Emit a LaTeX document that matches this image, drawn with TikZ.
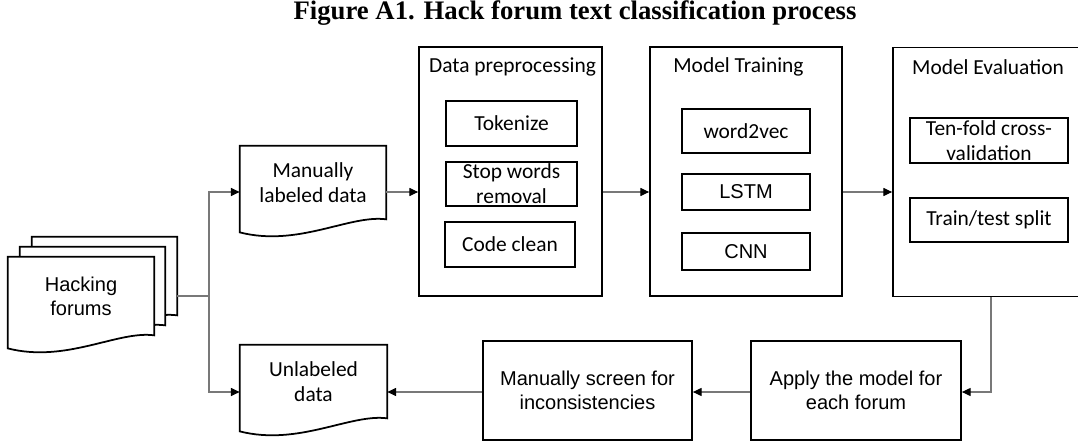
\documentclass[tikz,border=0pt]{standalone}
\usepackage{fontspec}
\usepackage{xcolor}
\usepackage{tikz}
\usetikzlibrary{arrows.meta,calc,backgrounds}
\newfontfamily\calibrifont{Carlito}
\newfontfamily\arialfont{Liberation Sans}
\newfontfamily\titlefont{Liberation Serif}
\definecolor{flowgray}{RGB}{120,120,120}

% document shape with a wavy bottom, drawn round a named node
\newcommand{\docoutline}[1]{%
  \filldraw[docline] (#1.south east) -- (#1.north east) -- (#1.north west)
    -- ($(#1.south west)+(0,13)$)
    .. controls ($(#1.south west)!0.4!(#1.south east)+(0,28)$) and ($(#1.south west)!0.75!(#1.south east)+(0,-5)$) .. (#1.south east) -- cycle;}

\begin{document}
\begin{tikzpicture}[x=0.02cm, y=-0.02cm,
    wh/.style 2 args={minimum width=#1*0.02cm, minimum height=#2*0.02cm},
    box/.style={draw, rectangle, line width=1pt, inner sep=0pt, align=center},
    docline/.style={draw=black, fill=white, line width=1pt},
    cal/.style={font=\calibrifont\fontsize{12.2}{14.2}\selectfont},
    ari/.style={font=\arialfont\fontsize{11.4}{13.6}\selectfont},
    flow/.style={draw=flowgray, line width=0.6pt},
    arr/.style={flow, -{Triangle[color=black, length=5pt, width=4.6pt]}}]
    \useasboundingbox (0,0) rectangle (1078,442);
    \clip (0,0) rectangle (1078,442);

    \node[font=\titlefont\bfseries\fontsize{15.2}{18}\selectfont] (title) at (575,13) {Figure A1. Hack forum text classification process};

    % input documents
    \node[wh={145}{78}] (forumsback) at (104.5,276) {};
    \node[wh={145}{78}] (forumsmid) at (92.5,286) {};
    \node[ari, wh={146}{78}, align=center] (forums) at (81,296) {Hacking\\forums};
    \node[cal, wh={146}{73}, align=center] (labeled) at (313,182.5) {Manually\\labeled data};
    \node[cal, wh={147}{73}, align=center] (unlabeled) at (313.5,381.5) {Unlabeled\\data};
    \begin{scope}[on background layer]
        \docoutline{forumsback}
        \docoutline{forumsmid}
        \docoutline{forums}
        \docoutline{labeled}
        \docoutline{unlabeled}
    \end{scope}

    % data preprocessing
    \node[box, wh={183}{249}] (dp) at (510.5,171.5) {};
    \node[cal] (dptitle) at (512.5,67) {Data preprocessing};
    \node[box, cal, wh={131}{45}] (tokenize) at (511.5,123.5) {Tokenize};
    \node[box, cal, wh={131}{44}] (stopwords) at (511.5,184) {Stop words\\removal};
    \node[box, cal, wh={130}{45}] (codeclean) at (510,244.5) {Code clean};

    % model training
    \node[box, wh={192}{249}] (mt) at (746,171.5) {};
    \node[cal] (mttitle) at (738.5,67) {Model Training};
    \node[box, cal, wh={128}{44}] (wordvec) at (746,131) {word2vec};
    \node[box, ari, wh={128}{36}] (lstm) at (746,192) {LSTM};
    \node[box, ari, wh={128}{37}] (cnn) at (746,251.5) {CNN};

    % model evaluation
    \node[box, wh={196}{249}] (me) at (991,172) {};
    \node[cal] (metitle) at (988,67) {Model Evaluation};
    \node[box, cal, wh={158}{45}] (tenfold) at (989,140.5) {Ten-fold cross-\\validation};
    \node[box, cal, wh={158}{44}] (traintest) at (989,220) {Train/test split};

    % lower row
    \node[box, ari, wh={210}{99}] (apply) at (856,390.5) {Apply the model for\\each forum};
    \node[box, ari, wh={209}{99}] (screen) at (587.5,390.5) {Manually screen for\\inconsistencies};

    \coordinate (upper) at (0,192);
    \coordinate (lower) at (0,392);
    \coordinate (fork) at (209,296);

    \draw[flow] (forumsback.east |- forums) -- (fork);
    \draw[arr] (fork) |- (labeled.west |- upper);
    \draw[arr] (fork) |- (unlabeled.west |- lower);
    \draw[arr] (labeled.east |- upper) -- (dp.west |- upper);
    \draw[arr] (dp.east |- upper) -- (mt.west |- upper);
    \draw[arr] (mt.east |- upper) -- (me.west |- upper);
    \draw[arr] (me.south) |- (apply.east |- lower);
    \draw[arr] (apply.west |- lower) -- (screen.east |- lower);
    \draw[arr] (screen.west |- lower) -- (unlabeled.east |- lower);
\end{tikzpicture}
\end{document}
